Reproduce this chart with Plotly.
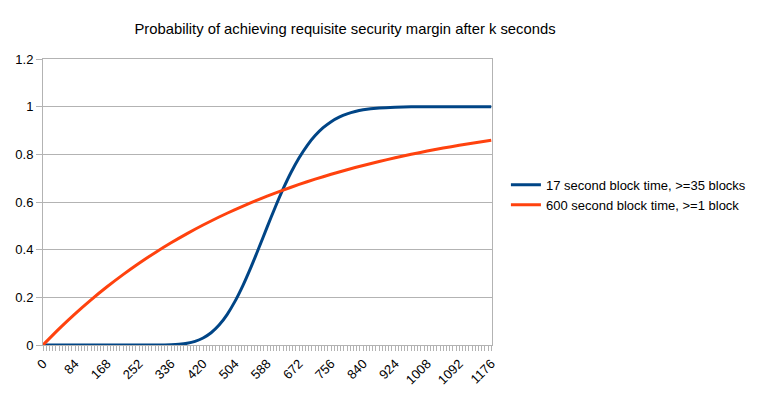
import plotly.graph_objects as go

# Data
t_blue = [0, 42, 84, 126, 168, 210, 252, 294, 336, 357, 378, 399, 420, 441, 462, 483,
          504, 525, 546, 567, 588, 609, 630, 651, 672, 693, 714, 735, 756, 777, 798,
          819, 840, 882, 924, 966, 1008, 1050, 1092, 1134, 1176]
p_blue = [0, 0, 0, 0, 0, 0, 0, 0.0001, 0.0013, 0.0032, 0.0074, 0.0155, 0.0294, 0.0514,
          0.0838, 0.1278, 0.184, 0.2514, 0.3278, 0.4099, 0.4946, 0.5771, 0.6549, 0.7246,
          0.7855, 0.8369, 0.8787, 0.9117, 0.9372, 0.9561, 0.97, 0.9799, 0.9867, 0.9945,
          0.9979, 0.9992, 0.9997, 0.9999, 1.0, 1.0, 1.0]

t_orange = [0, 42, 84, 126, 168, 210, 252, 294, 336, 378, 420, 462, 504, 546, 588, 630,
            672, 714, 756, 798, 840, 882, 924, 966, 1008, 1050, 1092, 1134, 1176]
p_orange = [0, 0.0676, 0.1306, 0.1894, 0.2442, 0.2953, 0.343, 0.3874, 0.4288, 0.4674,
            0.5034, 0.537, 0.5683, 0.5975, 0.6247, 0.6501, 0.6737, 0.6958, 0.7163, 0.7355,
            0.7534, 0.7701, 0.7856, 0.8001, 0.8136, 0.8262, 0.838, 0.8489, 0.8591]

x_ticks = [0, 84, 168, 252, 336, 420, 504, 588, 672, 756, 840, 924, 1008, 1092, 1176]
y_ticks = [0, 0.2, 0.4, 0.6, 0.8, 1, 1.2]
y_labels = ["0", "0.2", "0.4", "0.6", "0.8", "1", "1.2"]

title = "Probability of achieving requisite security margin after k seconds"
name_blue = "17 second block time, >=35 blocks"
name_orange = "600 second block time, >=1 block"

FONT = "Liberation Sans, Arial, sans-serif"
GRID = "#b3b3b3"

# page has an 8px body margin; figure is sized to fit inside the window
W, H = 755, 385

fig = go.Figure()
fig.add_trace(go.Scatter(x=t_blue, y=p_blue, mode="lines", name=name_blue,
                         line=dict(color="#004586", width=3, shape="spline", smoothing=0.6)))
fig.add_trace(go.Scatter(x=t_orange, y=p_orange, mode="lines", name=name_orange,
                         line=dict(color="#ff420e", width=3, shape="spline", smoothing=0.6)))

fig.update_layout(
    width=W, height=H,
    margin=dict(l=35, r=271, t=51, b=48, autoexpand=False),
    paper_bgcolor="white", plot_bgcolor="white",
    font=dict(family=FONT, size=13, color="#000000"),
    title=dict(text=title, x=337/W, xref="container", xanchor="center",
               y=1 - 21/H, yref="container", yanchor="middle", automargin=False,
               font=dict(family=FONT, size=14.8, color="#000000")),
    showlegend=True,
    legend=dict(x=1.031, xanchor="left", y=0.525, yanchor="middle",
                font=dict(family=FONT, size=13, color="#000000"),
                bgcolor="rgba(0,0,0,0)", tracegroupgap=0),
    xaxis=dict(range=[0, 1178], tickmode="array", tickvals=x_ticks, automargin=False,
               ticktext=[str(v) for v in x_ticks], tickangle=-45,
               showgrid=False, zeroline=False, showline=True, linecolor=GRID,
               linewidth=1, mirror=True, ticks="outside", ticklen=5, tickcolor=GRID,
               minor=dict(dtick=8.4, tick0=0, ticks="outside", ticklen=5,
                          tickcolor=GRID, showgrid=False),
               tickfont=dict(family=FONT, size=13)),
    yaxis=dict(range=[0, 1.2], tickmode="array", tickvals=y_ticks, ticktext=y_labels,
               automargin=False,
               showgrid=True, gridcolor=GRID, gridwidth=1, zeroline=False,
               showline=True, linecolor=GRID, linewidth=1, mirror=True,
               ticks="outside", ticklen=6, tickcolor=GRID,
               tickfont=dict(family=FONT, size=13)),
)

fig.write_html("out.html")
